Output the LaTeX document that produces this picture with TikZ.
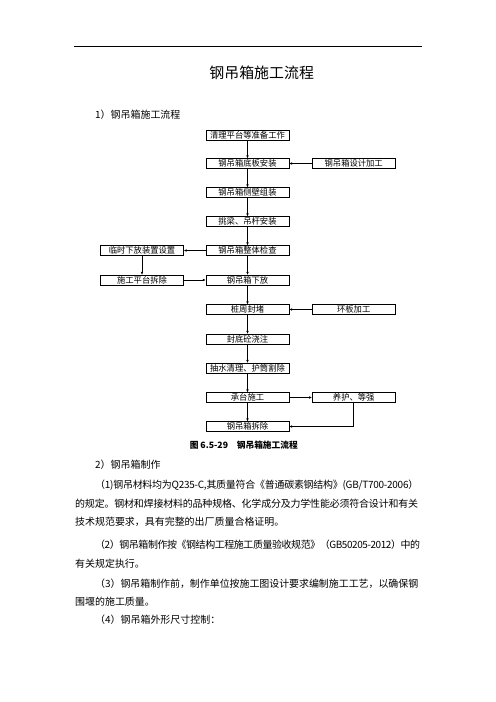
\documentclass[tikz,border=0pt]{standalone}
\usepackage{fontspec}
\newfontfamily\cjk{Noto Sans CJK SC}
\usetikzlibrary{arrows.meta}
\ExplSyntaxOn
\NewDocumentCommand\spreadline{mm}
  {\makebox[#1][s]{\tl_map_inline:nn {#2} {##1\hskip 0pt plus 1fil minus 0.5pt}\unskip}}
\ExplSyntaxOff

\begin{document}
\begin{tikzpicture}[x=0.4234mm, y=-0.4234mm, font=\cjk,
  stepbox/.style={draw, line width=0.7pt, minimum width=35.1mm, minimum height=4.1mm, inner sep=0pt, font=\cjk\fontsize{10pt}{12pt}\selectfont},
  flow/.style={line width=0.7pt, -{Latex[length=3.5pt,width=3.2pt]}},
  bodyline/.style={anchor=west, inner sep=0pt, font=\cjk\fontsize{12pt}{14pt}\selectfont}]

\useasboundingbox (0,0) rectangle (496,702);

\draw[line width=0.8pt] (74,46) -- (422,46);
\node (title) at (261.7,73) {\fontsize{18pt}{20pt}\selectfont 钢吊箱施工流程};
\node[bodyline] (sec1) at (95,115) {1）钢吊箱施工流程};

\node[stepbox] (qingli) at (247.5,135) {清理平台等准备工作};
\node[stepbox] (diban) at (247.5,163.5) {钢吊箱底板安装};
\node[stepbox] (cebi) at (247.5,192.5) {钢吊箱侧壁组装};
\node[stepbox] (tiaoliang) at (247.5,221.5) {挑梁、吊杆安装};
\node[stepbox] (jiancha) at (247.5,250.5) {钢吊箱整体检查};
\node[stepbox] (xiafang) at (247.5,280) {钢吊箱下放};
\node[stepbox] (fengdu) at (247.5,309.5) {桩周封堵};
\node[stepbox] (jiaozhu) at (247.5,339) {封底砼浇注};
\node[stepbox] (choushui) at (247.5,368) {抽水清理、护筒割除};
\node[stepbox] (chengtai) at (247.5,397.5) {承台施工};
\node[stepbox] (chaichu) at (247.5,426.5) {钢吊箱拆除};

\node[stepbox] (sheji) at (353.7,163.5) {钢吊箱设计加工};
\node[stepbox] (huanban) at (353.7,309.5) {环板加工};
\node[stepbox] (yanghu) at (353.7,397.5) {养护、等强};

\node[stepbox] (linshi) at (142,250.5) {临时下放装置设置};
\node[stepbox] (pingtai) at (142,280) {施工平台拆除};

\draw[flow] (qingli) -- (diban);
\draw[flow] (diban) -- (cebi);
\draw[flow] (cebi) -- (tiaoliang);
\draw[flow] (tiaoliang) -- (jiancha);
\draw[flow] (jiancha) -- (xiafang);
\draw[flow] (xiafang) -- (fengdu);
\draw[flow] (fengdu) -- (jiaozhu);
\draw[flow] (jiaozhu) -- (choushui);
\draw[flow] (choushui) -- (chengtai);
\draw[flow] (chengtai) -- (chaichu);
\draw[flow] (sheji) -- (diban);
\draw[flow] (huanban) -- (fengdu);
\draw[flow] (jiancha) -- (linshi);
\draw[flow] (linshi) -- (pingtai);
\draw[flow] (pingtai) -- (xiafang);
\draw[flow] (chengtai) -- (yanghu);
\draw[flow] (yanghu) |- (chaichu);

\node[font=\cjk\bfseries\fontsize{10.5pt}{12pt}\selectfont] (caption) at (243.8,445.5) {图 6.5-29\quad 钢吊箱施工流程};

\node[bodyline] (sec2) at (95,465) {2）钢吊箱制作};
\node[bodyline] (para1a) at (95,485.5) {\spreadline{136.8mm}{（1)钢吊材料均为Q235-C,其质量符合《普通碳素钢结构》(GB/T700-2006）}};
\node[bodyline] (para1b) at (75,503.5) {\spreadline{145.2mm}{的规定。钢材和焊接材料的品种规格、化学成分及力学性能必须符合设计和有关}};
\node[bodyline] (para1c) at (75,521.8) {技术规范要求，具有完整的出厂质量合格证明。};
\node[bodyline] (para2a) at (95,545) {\spreadline{136.8mm}{（2）钢吊箱制作按《钢结构工程施工质量验收规范》（GB50205-2012）中的}};
\node[bodyline] (para2b) at (75,563.3) {有关规定执行。};
\node[bodyline] (para3a) at (95,583.3) {\spreadline{136.8mm}{（3）钢吊箱制作前，制作单位按施工图设计要求编制施工工艺，以确保钢}};
\node[bodyline] (para3b) at (75,601.7) {围堰的施工质量。};
\node[bodyline] (para4) at (95,620) {（4）钢吊箱外形尺寸控制：};
\end{tikzpicture}
\end{document}
